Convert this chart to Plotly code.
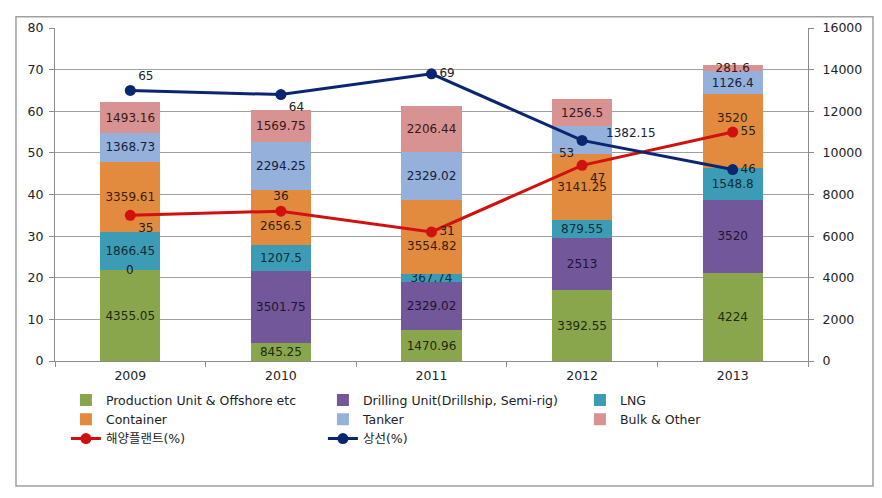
import plotly.graph_objects as go

years = ["2009", "2010", "2011", "2012", "2013"]

production = [4355.05, 845.25, 1470.96, 3392.55, 4224]
drilling = [0, 3501.75, 2329.02, 2513, 3520]
lng = [1866.45, 1207.5, 367.74, 879.55, 1548.8]
container = [3359.61, 2656.5, 3554.82, 3141.25, 3520]
tanker = [1368.73, 2294.25, 2329.02, 1382.15, 1126.4]
bulk = [1493.16, 1569.75, 2206.44, 1256.5, 281.6]

offshore_pct = [35, 36, 31, 47, 55]
merchant_pct = [65, 64, 69, 53, 46]

bar_series = [
    ("Production Unit & Offshore etc", production, "#8AA64C", "#1E2A10"),
    ("Drilling Unit(Drillship, Semi-rig)", drilling, "#72579A", "#1E1430"),
    ("LNG", lng, "#3C9CB5", "#0E2C36"),
    ("Container", container, "#E28A3E", "#3A1E08"),
    ("Tanker", tanker, "#95B0DA", "#14223A"),
    ("Bulk & Other", bulk, "#D89292", "#3A1818"),
]

# labels that were nudged off-centre in the original (pixel offsets only)
label_nudges = {
    ("Drilling Unit(Drillship, Semi-rig)", "2009"): (0, 0),
    ("Container", "2010"): (0, -8),
    ("Container", "2011"): (0, -9),
    ("Container", "2013"): (0, 13),
    ("Tanker", "2012"): (49, 7),
}

FONT = "DejaVu Sans, Noto Sans CJK KR, sans-serif"
LBL = 12

fig = go.Figure()
annotations = []
base = [0.0] * len(years)
for name, vals, color, tcolor in bar_series:
    texts = []
    for i, (yr, v) in enumerate(zip(years, vals)):
        key = (name, yr)
        if key in label_nudges:
            texts.append("")
            dx, dy = label_nudges[key]
            annotations.append(dict(
                x=i, y=base[i] + v / 2, xref="x", yref="y", text=f"{v:g}",
                showarrow=False, xshift=dx, yshift=dy,
                font=dict(family=FONT, size=LBL, color=tcolor),
            ))
        else:
            texts.append(f"{v:g}")
    fig.add_trace(go.Bar(
        name=name, x=years, y=vals, marker=dict(color=color, line=dict(width=0)),
        text=texts, textposition="inside",
        insidetextanchor="middle", textangle=0, constraintext="none",
        textfont=dict(family=FONT, size=LBL, color=tcolor),
        yaxis="y", width=0.4,
    ))
    base = [b + v for b, v in zip(base, vals)]

fig.add_trace(go.Scatter(
    name="해양플랜트(%)", x=years, y=offshore_pct, mode="lines+markers+text",
    line=dict(color="#D11010", width=3), marker=dict(size=11, color="#D11010"),
    text=[str(v) for v in offshore_pct],
    textposition=["bottom right", "top center", "middle right", "bottom right", "middle right"],
    textfont=dict(family=FONT, size=LBL, color="#222222"),
    yaxis="y2", cliponaxis=False,
))
fig.add_trace(go.Scatter(
    name="상선(%)", x=years, y=merchant_pct, mode="lines+markers+text",
    line=dict(color="#0B2670", width=3), marker=dict(size=11, color="#0B2670"),
    text=[str(v) for v in merchant_pct],
    textposition=["top right", "bottom right", "middle right", "bottom left", "middle right"],
    textfont=dict(family=FONT, size=LBL, color="#222222"),
    yaxis="y2", cliponaxis=False,
))

axis_col = "#8C8C8C"
fig.update_layout(
    width=866, height=482,
    barmode="stack",
    paper_bgcolor="white", plot_bgcolor="white",
    margin=dict(l=47, r=66, t=12, b=129),
    font=dict(family=FONT, size=12, color="#222222"),
    showlegend=True,
    annotations=annotations,
    xaxis=dict(
        type="category", range=[-0.5, 4.5], showgrid=False, showline=True,
        linecolor=axis_col, linewidth=1,
        ticks="outside", tickson="boundaries", ticklen=5, tickcolor=axis_col,
        tickfont=dict(size=12.5, color="#222222"), ticklabelstandoff=3,
    ),
    yaxis=dict(
        side="right", range=[0, 16000], dtick=2000, tickformat="d", showgrid=False,
        showline=True, linecolor=axis_col, linewidth=1, ticks="outside", ticklen=5,
        tickcolor=axis_col, tickfont=dict(size=12.5, color="#222222"), zeroline=False,
        ticklabelstandoff=6,
    ),
    yaxis2=dict(
        side="left", overlaying="y", range=[0, 80], dtick=10, showgrid=True,
        gridcolor="#A0A0A0", gridwidth=1,
        showline=True, linecolor=axis_col, linewidth=1, ticks="outside", ticklen=5,
        tickcolor=axis_col, tickfont=dict(size=12.5, color="#222222"), zeroline=False,
        ticklabelstandoff=3,
    ),
    legend=dict(
        orientation="h", x=-0.0001, y=-0.0733,
        xanchor="left", yanchor="top", indentation=11,
        entrywidth=201, entrywidthmode="pixels", traceorder="normal",
        font=dict(family=FONT, size=12.5, color="#222222"),
        itemwidth=30, tracegroupgap=0,
    ),
    shapes=[dict(
        type="rect", xref="paper", yref="paper",
        x0=-0.0518, x1=1.0863, y0=-0.3754, y1=1.0337,
        line=dict(color="#A0A0A0", width=1.5), fillcolor="rgba(0,0,0,0)", layer="below",
    )],
)

fig.write_html("out.html")
